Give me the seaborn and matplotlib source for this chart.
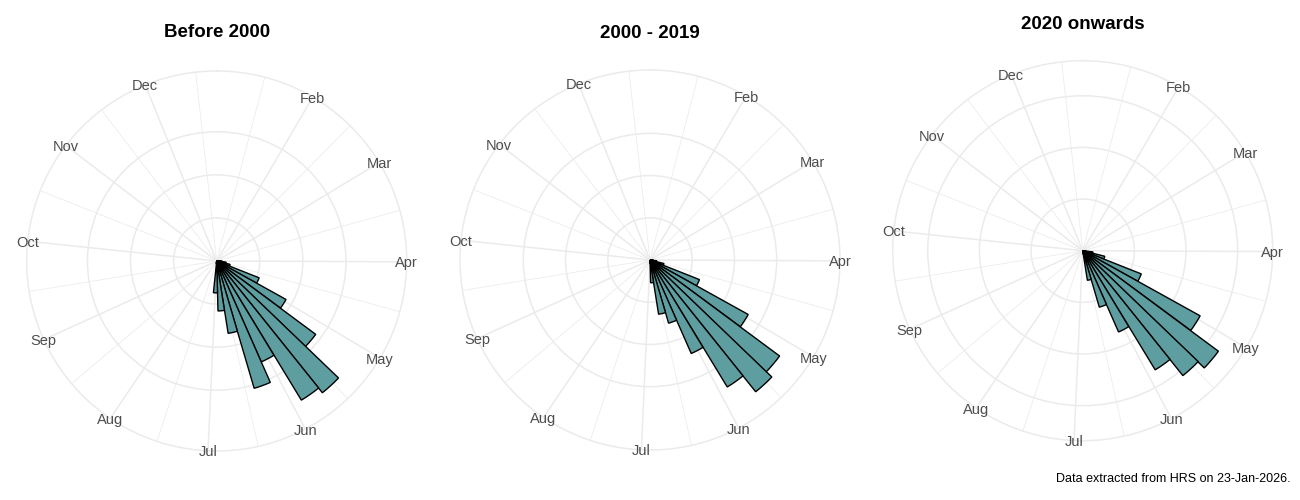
import numpy as np
import pandas as pd
import seaborn as sns
from matplotlib import pyplot as plt

# ---- data ----
periods = ['Before 2000', '2000 - 2019', '2020 onwards']

# histogram bins: midpoint as day of year, common width
bin_day = [86.4, 93.7, 101.0, 108.4, 115.7, 123.0, 130.4, 137.6,
           144.9, 152.3, 159.6, 166.9, 174.3, 181.6, 188.9]
bin_width = 7.32

before_2000 = [0.3, 0.6, 1.1, 1.6, 5.3, 9.2, 14.3, 19.6,
               18.9, 12.8, 15.4, 8.5, 5.8, 3.7, 0.3]
from_2000_to_2019 = [0.2, 0.4, 0.8, 1.7, 6.3, 13.3, 19.1, 20.0,
                     17.6, 12.1, 7.8, 6.5, 2.7, 0.4, 0.1]
from_2020 = [0.0, 0.3, 1.0, 2.2, 6.1, 13.0, 16.35, 15.5,
             13.5, 8.6, 5.7, 2.9, 0.3, 0.0, 0.0]

month_names = ['Feb', 'Mar', 'Apr', 'May', 'Jun', 'Jul',
               'Aug', 'Sep', 'Oct', 'Nov', 'Dec']
month_start = [32, 60, 91, 121, 152, 182, 213, 244, 274, 305, 335]
minor_day = [16.5, 46, 75.5, 106, 136.5, 167, 197.5, 228.5, 259, 289.5, 320, 350.5]
day_lo, day_hi = 2.07, 356.77   # range of the angular scale
ring_breaks = [5, 10, 15]

caption = 'Data extracted from HRS on 23-Jan-2026.'

df = pd.concat([
    pd.DataFrame({'period': p, 'day': bin_day, 'value': v})
    for p, v in zip(periods, [before_2000, from_2000_to_2019, from_2020])
])


def to_theta(d):
    return (np.asarray(d, dtype=float) - day_lo) / (day_hi - day_lo) * 2 * np.pi


def rose(data, **kws):
    ax = plt.gca()
    ax.bar(to_theta(data['day']), data['value'],
           width=bin_width / (day_hi - day_lo) * 2 * np.pi,
           bottom=0, align='center', color='#5F9EA0',
           edgecolor='black', linewidth=1.0, joinstyle='miter')


sns.set_theme(style='white')
plt.rcParams['font.family'] = ['Liberation Sans', 'DejaVu Sans']

grid_col = '#EBEBEB'
g = sns.FacetGrid(df, col='period', col_order=periods, sharex=False, sharey=False,
                  subplot_kws=dict(projection='polar'), height=5, aspect=13 / 15,
                  despine=False)
g.map_dataframe(rose)
g.set_titles('')
fig = g.figure
fig.set_size_inches(13, 5)

# panel centres / title baselines in pixels (fig is 1300 x 500)
centres = [(216.7, 261.0), (650.0, 260.0), (1082.7, 250.7)]
title_base = [37.3, 37.5, 28.6]
R = 190.0

for ax, p, (cx, cy), tb in zip(g.axes.flat, periods, centres, title_base):
    ax.set_position([(cx - R) / 1300, (500 - cy - R) / 500, 2 * R / 1300, 2 * R / 500])
    ax.set_theta_zero_location('N')
    ax.set_theta_direction(-1)
    ax.set_xlabel('')
    ax.set_ylabel('')
    vmax = df.loc[df.period == p, 'value'].max()
    outer = vmax * 0.45 / 0.4
    ax.set_ylim(0, outer)
    ax.set_xticks(to_theta(month_start))
    ax.set_xticks(to_theta(minor_day), minor=True)
    ax.set_xticklabels([])
    ax.set_yticks(ring_breaks)
    ax.set_yticklabels([])
    ax.tick_params(which='both', length=0)
    ax.set_axisbelow(True)
    ax.xaxis.grid(True, which='major', color=grid_col, linewidth=1.1)
    ax.xaxis.grid(True, which='minor', color=grid_col, linewidth=0.55)
    ax.yaxis.grid(True, which='major', color=grid_col, linewidth=1.1)
    ax.spines['polar'].set_color(grid_col)
    ax.spines['polar'].set_linewidth(1.1)
    for name, d in zip(month_names, month_start):
        ax.text(to_theta(d), outer, name, ha='center', va='center_baseline',
                color='#4D4D4D', fontsize=10.5, clip_on=False, zorder=5)
    fig.text(cx / 1300, 1 - tb / 500, p, ha='center', va='baseline',
             fontsize=13.5, fontweight='bold', color='black')

fig.text(1291 / 1300, 1 - 482 / 500, caption, ha='right', va='baseline',
         fontsize=9, color='black')

fig.savefig('out.png', dpi=100)
